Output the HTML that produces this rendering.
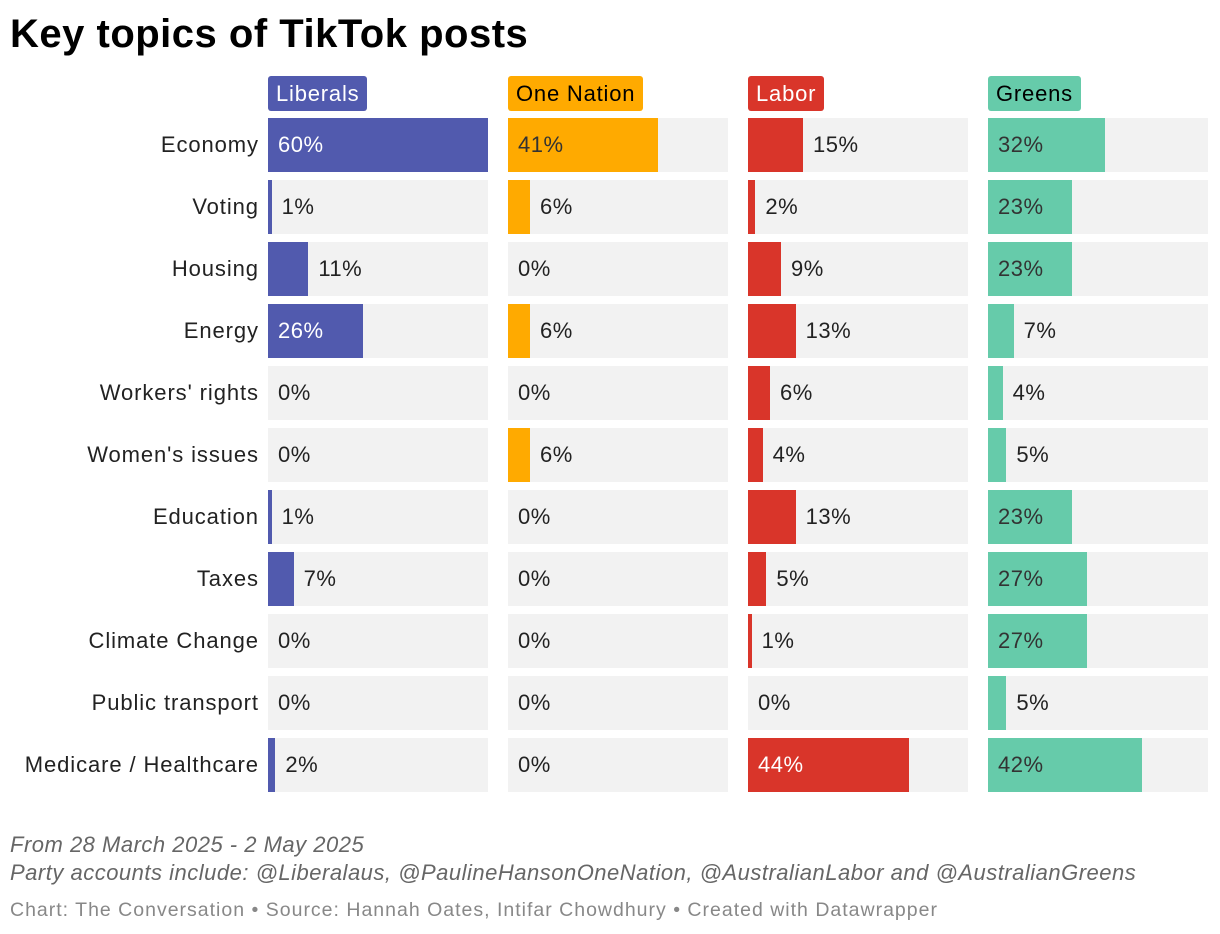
<!DOCTYPE html>
<html><head><meta charset="utf-8"><style>
body{margin:0;width:1220px;height:934px;background:#fff;font-family:"Liberation Sans",sans-serif;position:relative;overflow:hidden}
.a{position:absolute;white-space:nowrap}
</style></head><body>
<div class="a" style="left:10px;top:12px;font-size:40px;font-weight:bold;color:#000;letter-spacing:0.5px">Key topics of TikTok posts</div>
<div id="chart"></div>
<div class="a" style="left:10px;top:832px;font-size:22px;font-style:italic;color:#666;letter-spacing:0.5px">From 28 March 2025 - 2 May 2025</div>
<div class="a" style="left:10px;top:860px;font-size:22px;font-style:italic;color:#666;letter-spacing:0.5px">Party accounts include: @Liberalaus, @PaulineHansonOneNation, @AustralianLabor and @AustralianGreens</div>
<div class="a" style="left:10px;top:899px;font-size:19.5px;color:#888;letter-spacing:1px">Chart: The Conversation • Source: Hannah Oates, Intifar Chowdhury • Created with Datawrapper</div>
<script>
const topics=["Economy","Voting","Housing","Energy","Workers' rights","Women's issues","Education","Taxes","Climate Change","Public transport","Medicare / Healthcare"];
const parties=["Liberals","One Nation","Labor","Greens"];
const liberals=[60,1,11,26,0,0,1,7,0,0,2];
const oneNation=[41,6,0,6,0,6,0,0,0,0,0];
const labor=[15,2,9,13,6,4,13,5,1,0,44];
const greens=[32,23,23,7,4,5,23,27,27,5,42];
const series=[liberals,oneNation,labor,greens];
const colors=["#515aae","#ffaa00","#d9352a","#66cbaa"];
const inText=["#fff","#333","#fff","#333"];
const headText=["#fff","#000","#fff","#000"];
const maxV=60,colW=220,colX0=268,colStep=240,rowY0=118,rowStep=62,rowH=54;
const x=v=>v/maxV*colW;
const c=document.getElementById('chart');
function mk(name,css,txt){const d=document.createElement('div');d.className='a';d.style.cssText=css;if(txt!==undefined)d.textContent=txt;c.appendChild(d);return d;}
topics.forEach((t,i)=>{
  const y=rowY0+i*rowStep;
  const l=mk('','right:'+(1220-258)+'px;top:'+y+'px;height:'+rowH+'px;line-height:'+rowH+'px;font-size:22px;color:#222;letter-spacing:0.9px;margin-right:-0.9px',t);
  
  
});
parties.forEach((p,j)=>{
  const cx=colX0+j*colStep;
  const h=mk('','left:'+cx+'px;top:76px;height:35px;line-height:35px;padding:0 8px;border-radius:3px;font-size:22px;letter-spacing:0.8px;background:'+colors[j]+';color:'+headText[j],p);
  
  
  series[j].forEach((v,i)=>{
    const y=rowY0+i*rowStep;
    const bg=mk('','left:'+cx+'px;top:'+y+'px;width:'+colW+'px;height:'+rowH+'px;background:#f2f2f2');
    
    
    const w=x(v);
    const b=mk('','left:'+cx+'px;top:'+y+'px;width:'+w+'px;height:'+rowH+'px;background:'+colors[j]);
    
    
    const inside=v>=18;
    const lx=inside?cx+10:cx+w+10;
    const lab=mk('','left:'+lx+'px;top:'+y+'px;height:'+rowH+'px;line-height:'+rowH+'px;font-size:22px;letter-spacing:0.5px;color:'+(inside?inText[j]:'#222'),v+'%');
    
    
  });
});
</script>
</body></html>
